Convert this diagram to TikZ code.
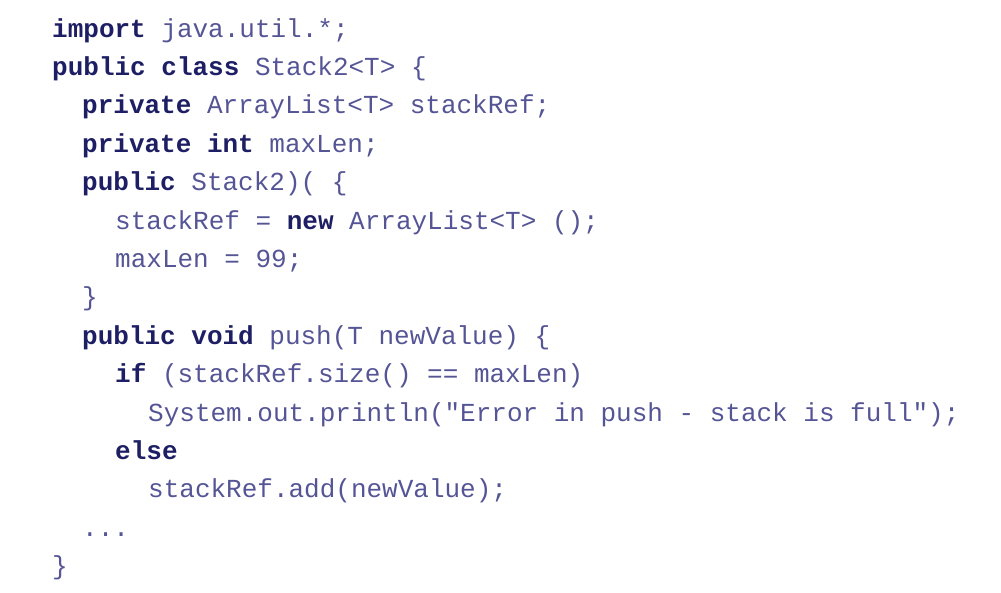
\documentclass[tikz,border=0pt]{standalone}
\usepackage{fontspec}
\newfontfamily\code{Liberation Mono}
\definecolor{kwc}{RGB}{30,30,100}
\definecolor{txc}{RGB}{85,85,150}
\newcommand{\kw}[1]{{\color{kwc}\bfseries #1}}
\begin{document}
\begin{tikzpicture}[x=1pt,y=-1pt,
  ln/.style={anchor=base west,inner sep=0pt,font=\code\fontsize{26}{30}\selectfont,text=txc}]
\useasboundingbox (0,0) rectangle (1001,592);
\node[ln] (l1) at (52,37) {\kw{import} java.util.*;};
\node[ln] (l2) at (52,75.4) {\kw{public class} Stack2<T> \{};
\node[ln] (l3) at (82,113.8) {\kw{private} ArrayList<T> stackRef;};
\node[ln] (l4) at (82,152.2) {\kw{private int} maxLen;};
\node[ln] (l5) at (82,190.6) {\kw{public} Stack2)( \{};
\node[ln] (l6) at (115,229) {stackRef = \kw{new} ArrayList<T> ();};
\node[ln] (l7) at (115,267.4) {maxLen = 99;};
\node[ln] (l8) at (82,305.8) {\}};
\node[ln] (l9) at (82,344.2) {\kw{public void} push(T newValue) \{};
\node[ln] (l10) at (115,382.6) {\kw{if} (stackRef.size() == maxLen)};
\node[ln] (l11) at (148,421) {System.out.println("Error in push - stack is full");};
\node[ln] (l12) at (115,459.4) {\kw{else}};
\node[ln] (l13) at (148,497.8) {stackRef.add(newValue);};
\node[ln] (l14) at (82,536.2) {...};
\node[ln] (l15) at (52,574.6) {\}};
\end{tikzpicture}
\end{document}
